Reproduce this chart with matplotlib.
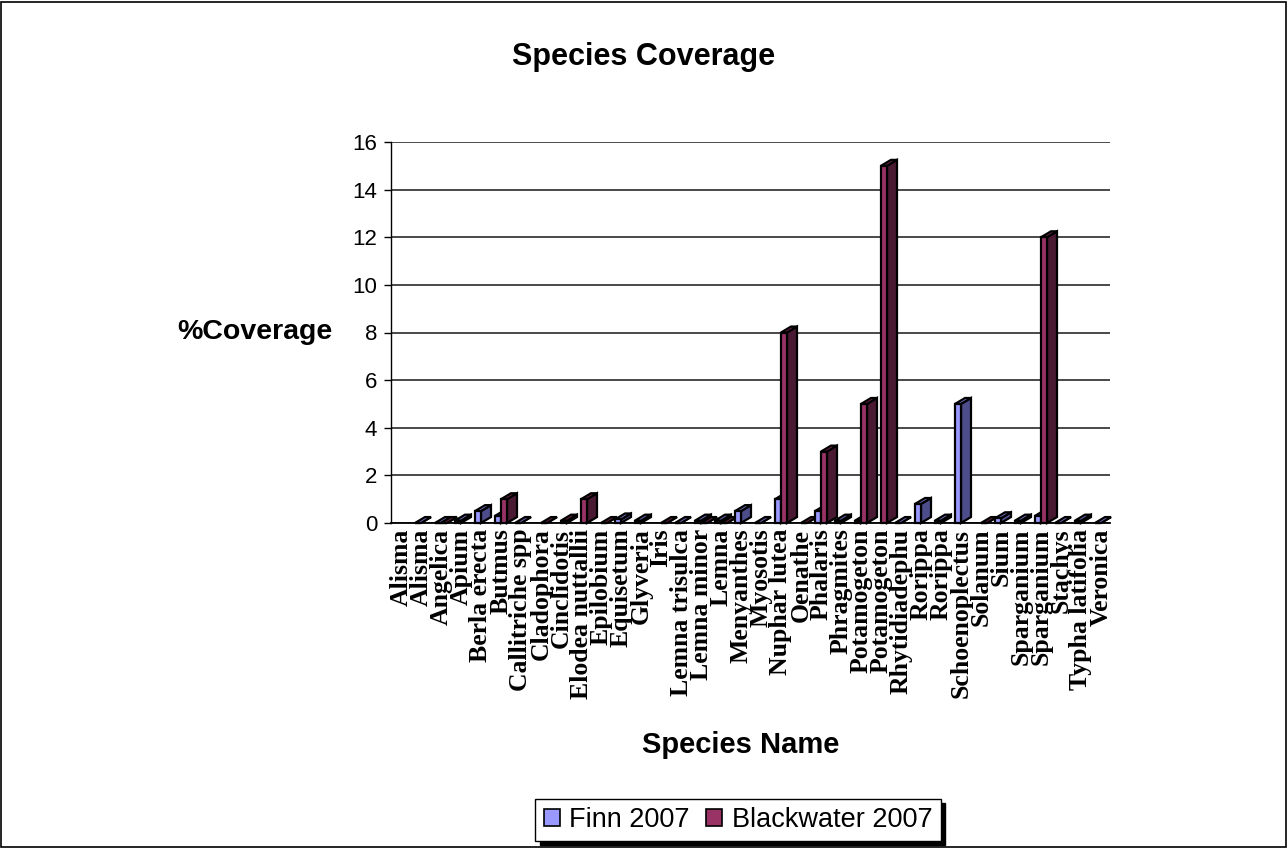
import matplotlib
matplotlib.use("Agg")
import matplotlib.pyplot as plt
from matplotlib.patches import Polygon, Patch, Rectangle

# Species surveyed (x categories)
species = [
    "Alisma", "Alisma", "Angelica", "Apium", "Berla erecta", "Butmus",
    "Callitriche spp", "Cladophora", "Cinclidotis", "Elodea nuttallii",
    "Epilobium", "Equisetum", "Glyveria", "Iris", "Lemna trisulca",
    "Lemna minor", "Lemna", "Menyanthes", "Myosotis", "Nuphar lutea",
    "Oenathe", "Phalaris", "Phragmites", "Potamogeton", "Potamogeton",
    "Rhytidiadephu", "Rorippa", "Rorippa", "Schoenoplectus", "Solanum",
    "Sium", "Sparganium", "Sparganium", "Stachys", "Typha latifolia",
    "Veronica",
]

# % coverage per site (None = species not recorded at that site)
finn_2007 = [
    None, 0, 0, 0.1, 0.5, 0.3, 0, None, None, None, None, 0.15, 0.1, None,
    0, 0.1, 0.1, 0.5, 0, 1.0, None, 0.5, 0.1, 0.1, None, 0, 0.8, 0.1, 5,
    None, 0.2, 0.1, 0.3, 0, 0.1, 0,
]
blackwater_2007 = [
    None, None, 0, None, None, 1, None, 0, 0.1, 1, 0, None, None, 0, None,
    0, 0, None, None, 8, 0, 3, None, 5, 15, None, None, None, None, 0,
    None, None, 12, None, None, None,
]

series_names = ["Finn 2007", "Blackwater 2007"]
front_colors = ["#9999FF", "#993366"]
side_colors = ["#4D4D8C", "#4A1A33"]
top_colors = ["#7373C7", "#732650"]

W, H = 1288, 848
fig = plt.figure(figsize=(W / 100, H / 100), dpi=100)
fig.patch.set_facecolor("white")

# outer chart border
fig.patches.append(Rectangle((1 / W, 1 / H), 1 - 3 / W, 1 - 3 / H,
                             transform=fig.transFigure, fill=False,
                             edgecolor="black", linewidth=1.2))

ax = fig.add_axes([391 / W, 1 - 523 / H, (1110 - 391) / W, (523 - 142) / H])
n = len(species)
ax.set_xlim(-0.5, n - 0.55)
ax.set_ylim(0, 16)

# oblique depth of the pseudo-3D columns, in data units
dx, dy = 0.5, 0.25
bar_w = 0.3
edge_kw = dict(edgecolor="black", linewidth=1.6, joinstyle="miter", clip_on=False)

for i in range(n):
    for s, values in enumerate([finn_2007, blackwater_2007]):
        v = values[i]
        if v is None:
            continue
        x0 = i - bar_w if s == 0 else i
        x1 = x0 + bar_w
        side = Polygon([(x1, 0), (x1 + dx, dy), (x1 + dx, v + dy), (x1, v)],
                       closed=True, facecolor=side_colors[s], zorder=3, **edge_kw)
        top = Polygon([(x0, v), (x1, v), (x1 + dx, v + dy), (x0 + dx, v + dy)],
                      closed=True, facecolor=top_colors[s], zorder=3, **edge_kw)
        ax.add_patch(side)
        ax.add_patch(top)
        ax.bar(x0, v, width=bar_w, align="edge", color=front_colors[s],
               zorder=3, **edge_kw)

# axes styling
for sp in ["top", "right"]:
    ax.spines[sp].set_visible(False)
ax.spines["left"].set_linewidth(1.0)
ax.spines["bottom"].set_linewidth(1.3)
ax.set_yticks(range(0, 17, 2))
ax.yaxis.grid(True, color="#2a2a2a", linewidth=1.2)
ax.set_axisbelow(True)
ax.tick_params(axis="y", length=5, width=1.0, pad=5, labelsize=16)
for lbl in ax.get_yticklabels():
    lbl.set_fontfamily("Liberation Sans")

ax.set_xticks(range(n))
ax.set_xticklabels(species, rotation=90, fontfamily="Liberation Serif",
                   fontweight="bold", fontsize=18.5, va="top", ha="center")
ax.tick_params(axis="x", length=0, pad=4)

fig.text(644 / W, 1 - 57 / H, "Species Coverage", ha="center", va="center",
         fontsize=22, fontweight="bold", fontfamily="Liberation Sans")
fig.text(255 / W, 1 - 332 / H, "%Coverage", ha="center", va="center",
         fontsize=20.5, fontweight="bold", fontfamily="Liberation Sans")
fig.text(741 / W, 1 - 745 / H, "Species Name", ha="center", va="center",
         fontsize=21, fontweight="bold", fontfamily="Liberation Sans")

handles = [Patch(facecolor=c, edgecolor="black", linewidth=1.2) for c in front_colors]
leg = fig.legend(handles, series_names, loc="center", ncol=2,
                 bbox_to_anchor=(738 / W, 1 - 820 / H), frameon=True,
                 fancybox=False, edgecolor="black", framealpha=1,
                 shadow={"color": "black", "alpha": 1, "ox": 3, "oy": -3},
                 prop={"family": "Liberation Sans", "size": 19.5},
                 handlelength=0.6, handleheight=0.6, handletextpad=0.35,
                 columnspacing=0.6, borderpad=0.3)
leg.get_frame().set_linewidth(1.0)

fig.savefig("out.png", dpi=100)
